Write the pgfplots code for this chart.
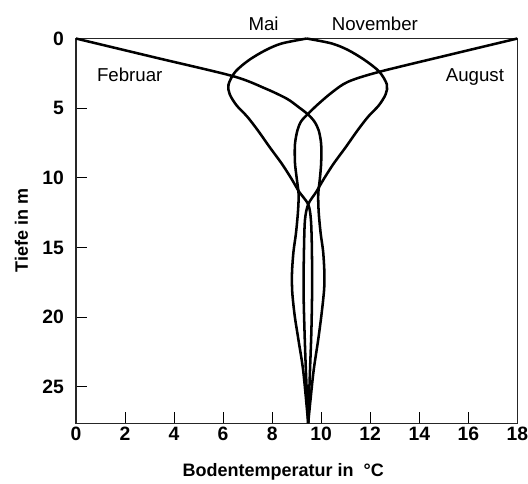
\documentclass[border=0pt]{standalone}
\usepackage{fontspec}
\setmainfont{Liberation Sans}
\usepackage{pgfplots}
\pgfplotsset{compat=1.18}
\begin{document}
\begin{tikzpicture}
\begin{axis}[
  name=ax,
  scale only axis,
  width=331pt, height=288.4pt,
  xmin=0, xmax=18, ymin=0, ymax=27.6,
  y dir=reverse,
  xtick={0,2,...,18}, ytick={0,5,...,25},
  tick align=inside,
  xtick pos=lower, xticklabel pos=lower,
  ytick pos=left,
  major tick length=8pt,
  tick style={black, line width=0.7pt},
  axis line style={black!85, line width=0.8pt},
  /pgf/number format/assume math mode=true,
  tick label style={font=\fontsize{14.5}{16}\selectfont\bfseries},
  yticklabel style={xshift=-5.5pt},
  xticklabel style={yshift=0.5pt},
  xlabel={Bodentemperatur in\ \ °C},
  ylabel={Tiefe in m},
  label style={font=\fontsize{13.5}{16}\selectfont\bfseries},
  xlabel style={yshift=-10pt, xshift=-10pt},
  ylabel style={yshift=4pt},
  clip=false,
  every axis plot post/.append style={black, line width=1.9pt, mark=none, smooth, tension=0.5, line join=round},
]
% Februar
\addplot coordinates {
(0,0) (3.2,1.35) (6.4,2.7) (7.7,3.57) (8.6,4.32) (9.1,4.95) (9.45,5.43)
(9.72,5.95) (9.9,6.6) (10.0,7.6) (10.0,8.9) (9.95,10.0) (9.88,11.2) (9.9,12.5)
(9.98,14.0) (10.08,15.3) (10.13,16.8) (10.12,18.0) (10.02,19.7) (9.88,21.6) (9.68,24.0) (9.47,27.6)
};
% August
\addplot coordinates {
(18,0) (15.2,1.18) (12.35,2.4) (11.1,3.1) (10.45,3.85) (9.85,4.75) (9.45,5.43)
(9.18,5.95) (9.03,6.6) (8.93,7.6) (8.93,8.9) (9.0,10.0) (9.08,11.2) (9.05,12.5)
(8.97,14.0) (8.87,15.3) (8.81,16.8) (8.82,18.2) (8.92,19.9) (9.07,21.6) (9.27,23.9) (9.47,27.6)
};
% Mai
\addplot coordinates {
(9.41,0) (8.4,0.35) (7.75,0.82) (7.06,1.54) (6.5,2.38) (6.22,3.3) (6.27,4.0) (6.55,4.8)
(6.98,5.6) (7.42,6.6) (7.9,7.8) (8.4,9.0) (8.8,10.1) (9.1,11.0) (9.47,11.9) (9.58,13)
(9.62,15) (9.63,18) (9.6,21) (9.54,24) (9.47,27.6)
};
% November
\addplot coordinates {
(9.41,0) (10.42,0.35) (11.09,0.82) (11.77,1.54) (12.37,2.38) (12.68,3.3) (12.63,4.0) (12.35,4.8)
(11.92,5.6) (11.48,6.6) (11.0,7.8) (10.5,9.0) (10.1,10.1) (9.8,11.0) (9.47,11.9) (9.34,13)
(9.3,15) (9.28,18) (9.32,21) (9.38,24) (9.47,27.6)
};
\node[anchor=base, font=\fontsize{14}{16}\selectfont] at (axis cs:7.65,-0.61) {Mai};
\node[anchor=base, font=\fontsize{14}{16}\selectfont] at (axis cs:12.19,-0.61) {November};
\node[anchor=base, font=\fontsize{14}{16}\selectfont] at (axis cs:2.19,3.12) {Februar};
\node[anchor=base, font=\fontsize{14}{16}\selectfont] at (axis cs:16.27,3.12) {August};
\end{axis}
\pgfresetboundingbox
\path ([xshift=-57pt,yshift=-45pt]ax.south west) rectangle ([xshift=8pt,yshift=28.9pt]ax.north east);
\end{tikzpicture}
\end{document}
